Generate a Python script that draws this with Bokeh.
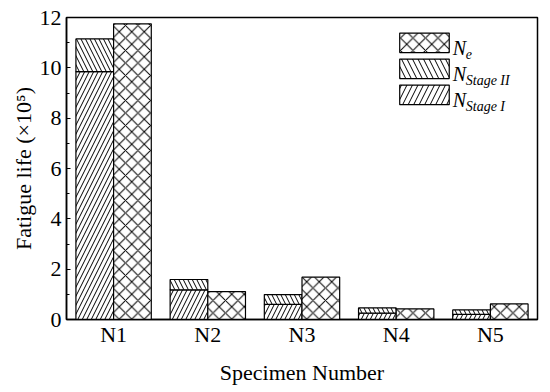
from bokeh.plotting import figure
from bokeh.models import ColumnDataSource, FactorRange, Range1d, SingleIntervalTicker, Label, BoxAnnotation
from bokeh.transform import dodge
from bokeh.embed import file_html
from bokeh.resources import INLINE

specimens = ["N1", "N2", "N3", "N4", "N5"]
stage_one = [9.85, 1.18, 0.60, 0.25, 0.20]
stage_two = [1.30, 0.41, 0.39, 0.21, 0.18]
n_e = [11.75, 1.11, 1.68, 0.42, 0.62]

FONT = "'Liberation Serif', 'Times New Roman', serif"

src = ColumnDataSource(dict(spec=specimens, s1=stage_one, s2=stage_two, ne=n_e))

p = figure(x_range=FactorRange(*specimens, range_padding=0), y_range=Range1d(0, 12),
           width=545, height=390, output_backend="svg", toolbar_location=None,
           min_border_left=66, min_border_right=8, min_border_top=17, min_border_bottom=71)

p.vbar_stack(["s1", "s2"], x=dodge("spec", -0.2, range=p.x_range), width=0.4, source=src,
             fill_color="white", line_color="black", line_width=1.2,
             hatch_pattern=["right_diagonal_line", "left_diagonal_line"],
             hatch_color="black", hatch_weight=1, hatch_scale=9)
p.vbar(x=dodge("spec", 0.2, range=p.x_range), top="ne", width=0.4, source=src,
       fill_color="white", line_color="black", line_width=1.2,
       hatch_pattern="diagonal_cross", hatch_color="black", hatch_weight=1, hatch_scale=12.5)

p.xgrid.visible = False
p.ygrid.visible = False
p.outline_line_color = "black"
p.outline_line_width = 1.5
p.background_fill_color = "white"
p.border_fill_color = "white"

p.yaxis.ticker = SingleIntervalTicker(interval=2, num_minor_ticks=2)
for ax in (p.xaxis, p.yaxis):
    ax.axis_line_width = 1.5
    ax.axis_line_color = "black"
    ax.major_label_text_font = FONT
    ax.major_label_text_font_size = "22px"
    ax.major_label_text_color = "black"
    ax.axis_label_text_font = FONT
    ax.axis_label_text_font_size = "22px"
    ax.axis_label_text_font_style = "normal"
    ax.axis_label_text_color = "black"

p.yaxis.major_tick_in = 4
p.yaxis.major_tick_out = 0
p.yaxis.minor_tick_in = 3
p.yaxis.minor_tick_out = 0
p.yaxis.major_label_standoff = 5
p.yaxis.axis_label = "Fatigue life (×10⁵)"
p.yaxis.axis_label_standoff = 1

p.xaxis.major_tick_in = 0
p.xaxis.major_tick_out = 0
p.xaxis.minor_tick_in = 0
p.xaxis.minor_tick_out = 0
p.xaxis.major_tick_line_color = None
p.xaxis.minor_tick_line_color = None
p.xaxis.major_label_standoff = 2
p.xaxis.axis_label = "Specimen Number"
p.xaxis.axis_label_standoff = 10

# legend (built from annotations so the subscripts stay real text)
PX_X = 94.14   # px per category
PX_Y = 25.125  # px per unit
def xd(px):
    return (px - 66) / PX_X
def yd(px):
    return (319 - px) / PX_Y

legend_rows = [("diagonal_cross", 12.5, "e"),
               ("left_diagonal_line", 11, "Stage II"),
               ("right_diagonal_line", 11, "Stage I")]
for i, (pat, sc, sub) in enumerate(legend_rows):
    top = 33 + 26 * i
    p.add_layout(BoxAnnotation(left=xd(399), right=xd(448.5), top=yd(top), bottom=yd(top + 19.5),
                               fill_color="white", fill_alpha=1, line_color="black", line_width=1.2,
                               line_alpha=1, hatch_pattern=pat, hatch_scale=sc, hatch_color="black",
                               hatch_weight=1))
    p.add_layout(Label(x=xd(452), y=yd(top + 15), text="N", text_font=FONT, text_font_size="20px",
                       text_font_style="italic", text_color="black", text_baseline="alphabetic"))
    p.add_layout(Label(x=xd(465), y=yd(top + 21), text=sub, text_font=FONT, text_font_size="14px",
                       text_font_style="italic", text_color="black", text_baseline="alphabetic"))

open("out.html", "w").write(file_html(p, INLINE))
